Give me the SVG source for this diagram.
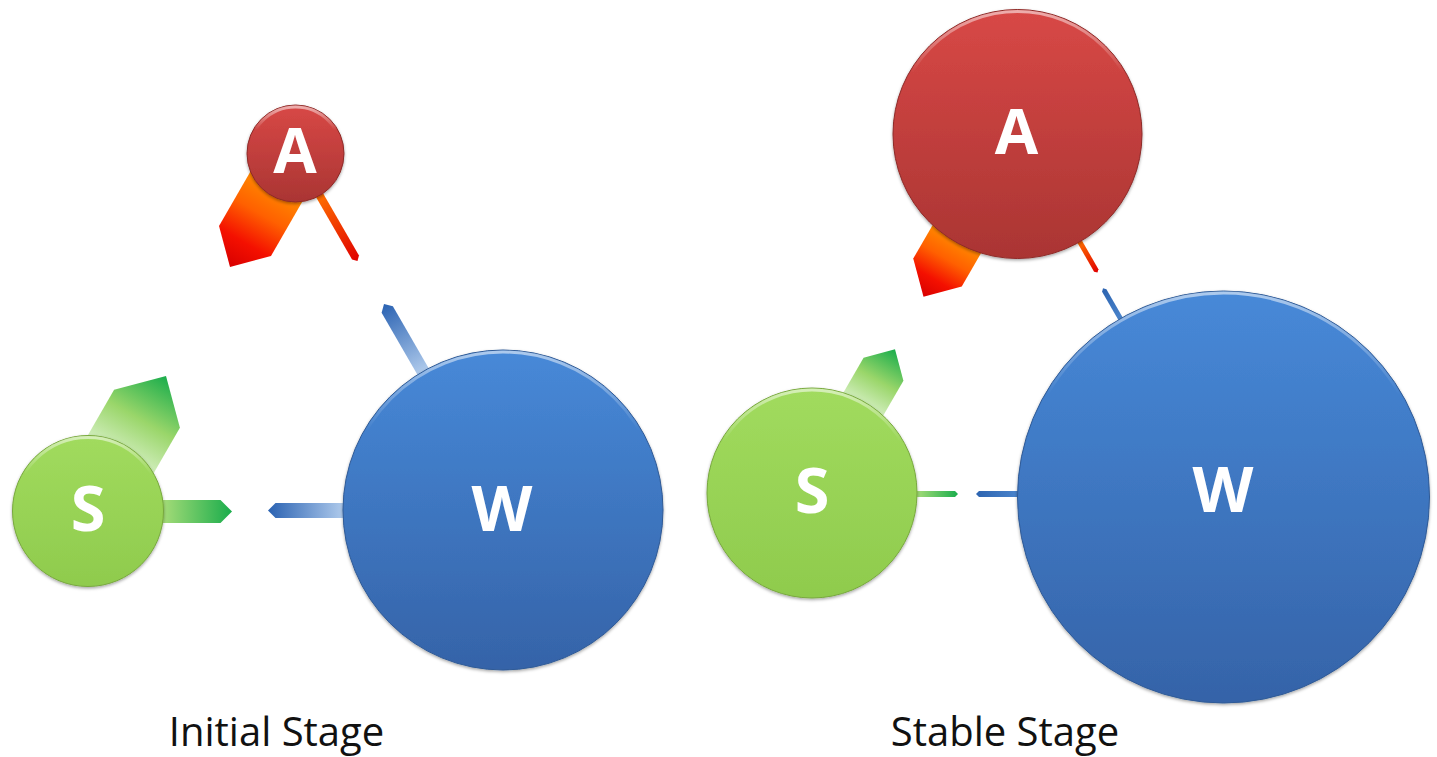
<svg xmlns="http://www.w3.org/2000/svg" width="1437" height="757" viewBox="0 0 1437 757">
  <style>
    .lbl { font-family: "Open Sans", "Liberation Sans", sans-serif; font-weight: bold; font-size: 63px; fill: #ffffff; text-anchor: middle; }
    .cap { font-family: "Open Sans", "Liberation Sans", sans-serif; font-size: 40px; fill: #111111; text-anchor: middle; }
    .rim { fill: none; stroke: url(#rimG); stroke-width: 3; }
  </style>
  <defs>
    <filter id="sh" x="-10%" y="-10%" width="120%" height="125%">
      <feDropShadow dx="0" dy="1.5" stdDeviation="1.5" flood-color="#000" flood-opacity="0.35"/>
    </filter>
    <linearGradient id="redC" x1="0" y1="0" x2="0" y2="1">
      <stop offset="0" stop-color="#d84846"/>
      <stop offset="1" stop-color="#aa3533"/>
    </linearGradient>
    <linearGradient id="bluC" x1="0" y1="0" x2="0" y2="1">
      <stop offset="0" stop-color="#4789d8"/>
      <stop offset="1" stop-color="#3563a8"/>
    </linearGradient>
    <linearGradient id="grnC" x1="0" y1="0" x2="0" y2="1">
      <stop offset="0" stop-color="#a1db5e"/>
      <stop offset="1" stop-color="#8fcb4d"/>
    </linearGradient>
    <linearGradient id="rimG" x1="0" y1="0" x2="0" y2="1">
      <stop offset="0" stop-color="#ffffff" stop-opacity="0.55"/>
      <stop offset="0.25" stop-color="#ffffff" stop-opacity="0"/>
      <stop offset="1" stop-color="#ffffff" stop-opacity="0"/>
    </linearGradient>
    <linearGradient id="redA" x1="0" y1="0" x2="1" y2="0">
      <stop offset="0" stop-color="#ff8a00"/>
      <stop offset="0.35" stop-color="#ff6000"/>
      <stop offset="0.7" stop-color="#f41000"/>
      <stop offset="1" stop-color="#d80000"/>
    </linearGradient>
    <linearGradient id="redT" x1="0" y1="0" x2="1" y2="0">
      <stop offset="0" stop-color="#ff7000"/>
      <stop offset="1" stop-color="#e00000"/>
    </linearGradient>
    <linearGradient id="grnA" x1="0" y1="0" x2="1" y2="0">
      <stop offset="0" stop-color="#d2eebe"/>
      <stop offset="0.45" stop-color="#9ad66a"/>
      <stop offset="1" stop-color="#1aad4c"/>
    </linearGradient>
    <linearGradient id="grnT" x1="0" y1="0" x2="1" y2="0">
      <stop offset="0" stop-color="#a6dc78"/>
      <stop offset="1" stop-color="#1aad4c"/>
    </linearGradient>
    <linearGradient id="bluA" x1="0" y1="0" x2="1" y2="0">
      <stop offset="0" stop-color="#b0cbec"/>
      <stop offset="1" stop-color="#2a62b2"/>
    </linearGradient>
    <linearGradient id="bluT" x1="0" y1="0" x2="1" y2="0">
      <stop offset="0" stop-color="#4a84cc"/>
      <stop offset="1" stop-color="#2d64b0"/>
    </linearGradient>
  </defs>
  <rect width="1437" height="757" fill="#ffffff"/>

  <g id="connectors">
    <!-- Initial stage -->
    <path id="l-a-s" fill="url(#redA)" transform="translate(295.5,153.5) rotate(120)" d="M37,-30 L101,-30 L131,0 L101,30 L37,30 Z"/>
    <path id="l-a-w" fill="url(#redT)" transform="translate(295.5,153.5) rotate(60)" d="M47,-4 L120,-4 L124,0 L120,4 L47,4 Z"/>
    <path id="l-s-a" fill="url(#grnA)" transform="translate(88,511) rotate(-60)" d="M64,-38 L118,-38 L156,0 L118,38 L64,38 Z"/>
    <path id="l-s-w" fill="url(#grnT)" transform="translate(88,511.5)" d="M74,-11.5 L132.5,-11.5 L144,0 L132.5,11.5 L74,11.5 Z"/>
    <path id="l-w-s" fill="url(#bluA)" transform="translate(503,510.5) rotate(180)" d="M159,-7.5 L227.5,-7.5 L235,0 L227.5,7.5 L159,7.5 Z"/>
    <path id="l-w-a" fill="url(#bluA)" transform="translate(503,510) rotate(-120)" d="M159,-6.5 L231.5,-6.5 L238,0 L231.5,6.5 L159,6.5 Z"/>
    <!-- Stable stage -->
    <path id="r-a-s" fill="url(#redA)" transform="translate(1017.5,134) rotate(120)" d="M120,-28 L160,-28 L188,0 L160,28 L120,28 Z"/>
    <path id="r-a-w" fill="url(#redT)" transform="translate(1017.5,134) rotate(60)" d="M123,-2.5 L157.5,-2.5 L160,0 L157.5,2.5 L123,2.5 Z"/>
    <path id="r-w-a" fill="url(#bluT)" transform="translate(1223.5,497) rotate(-120)" d="M205,-2.5 L238.5,-2.5 L241,0 L238.5,2.5 L205,2.5 Z"/>
    <path id="r-s-a" fill="url(#grnA)" transform="translate(812,493) rotate(-60)" d="M101,-23 L143,-23 L166,0 L143,23 L101,23 Z"/>
    <path id="r-s-w" fill="url(#grnT)" transform="translate(812,494)" d="M104,-3 L143,-3 L146,0 L143,3 L104,3 Z"/>
    <path id="r-w-s" fill="url(#bluT)" transform="translate(1223.5,494) rotate(180)" d="M205,-3 L244.5,-3 L247.5,0 L244.5,3 L205,3 Z"/>
  </g>

  <!-- Initial stage nodes -->
  <g id="node-A1">
    <circle cx="295.5" cy="153.5" r="48.5" fill="url(#redC)" stroke="#8e2a28" stroke-width="1" filter="url(#sh)"/>
    <circle class="rim" cx="295.5" cy="153.5" r="46.5"/>
    <text class="lbl" x="295" y="173">A</text>
  </g>
  <g id="node-S1">
    <circle cx="88" cy="511" r="75.5" fill="url(#grnC)" stroke="#78a83e" stroke-width="1" filter="url(#sh)"/>
    <circle class="rim" cx="88" cy="511" r="73.5"/>
    <text class="lbl" x="88" y="531">S</text>
  </g>
  <g id="node-W1">
    <circle cx="503" cy="510" r="160" fill="url(#bluC)" stroke="#2f5a96" stroke-width="1" filter="url(#sh)"/>
    <circle class="rim" cx="503" cy="510" r="158"/>
    <text class="lbl" x="502" y="531">W</text>
  </g>

  <!-- Stable stage nodes -->
  <g id="node-A2">
    <circle cx="1017.5" cy="134" r="124.5" fill="url(#redC)" stroke="#8e2a28" stroke-width="1" filter="url(#sh)"/>
    <circle class="rim" cx="1017.5" cy="134" r="122.5"/>
    <text class="lbl" x="1016.5" y="154">A</text>
  </g>
  <g id="node-S2">
    <circle cx="812" cy="493" r="105" fill="url(#grnC)" stroke="#78a83e" stroke-width="1" filter="url(#sh)"/>
    <circle class="rim" cx="812" cy="493" r="103"/>
    <text class="lbl" x="812" y="513">S</text>
  </g>
  <g id="node-W2">
    <circle cx="1223.5" cy="497" r="206" fill="url(#bluC)" stroke="#2f5a96" stroke-width="1" filter="url(#sh)"/>
    <circle class="rim" cx="1223.5" cy="497" r="204"/>
    <text class="lbl" x="1223" y="512">W</text>
  </g>

  <g id="captions">
    <text class="cap" x="276.5" y="746">Initial Stage</text>
    <text class="cap" x="1005" y="746">Stable Stage</text>
  </g>
</svg>
